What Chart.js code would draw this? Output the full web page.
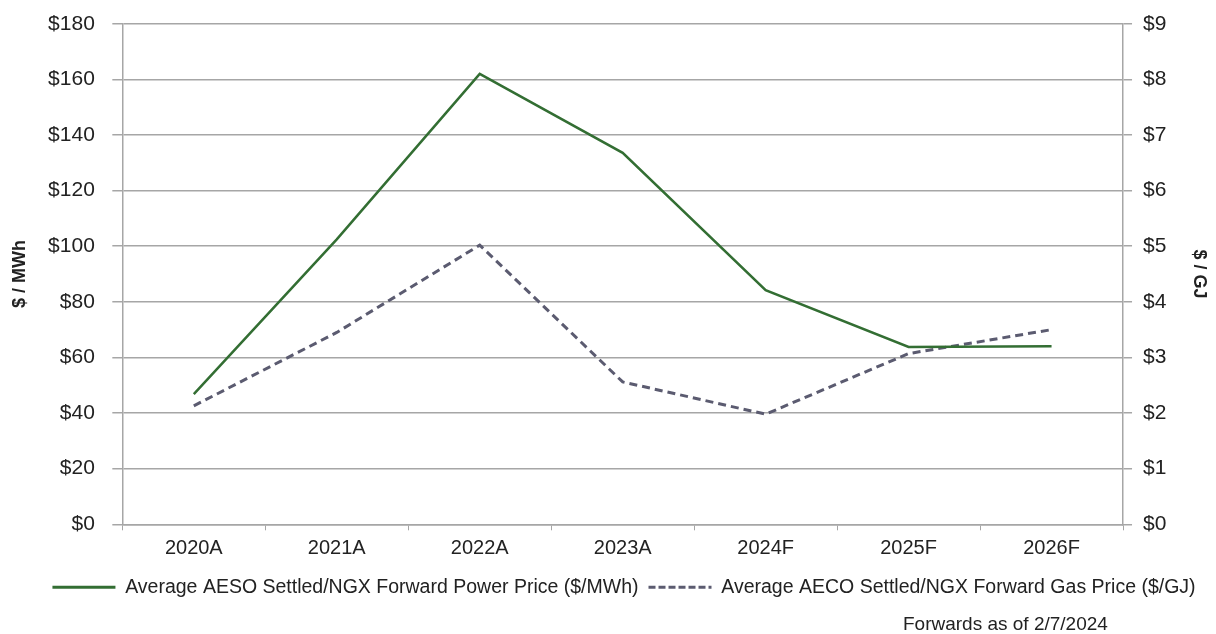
<!DOCTYPE html>
<html>
<head>
  <meta charset="UTF-8">
  <title>AESO Power and AECO Gas Prices</title>
  <script src="https://cdn.jsdelivr.net/npm/chart.js"></script>
  <style>
    body { margin: 0; background: #fff; }
    #wrap { position: relative; width: 1216px; height: 634px; }
    #note { position: absolute; left: 903px; top: 613px; font: 19px "Liberation Sans", Arial, sans-serif; color: #222; }
  </style>
</head>
<body>
<div id="wrap">
  <canvas id="priceChart"></canvas>
  <div id="note">Forwards as of 2/7/2024</div>
</div>

<script>
  // values
  var years = ['2020A', '2021A', '2022A', '2023A', '2024F', '2025F', '2026F'];
  var powerPrice = [46.8, 102.5, 162, 133.6, 84.2, 63.8, 64];   // $/MWh
  var gasPrice = [2.13, 3.45, 5.02, 2.56, 1.98, 3.07, 3.5];     // $/GJ

  var powerLabel = 'Average AESO Settled/NGX Forward Power Price ($/MWh)';
  var gasLabel = 'Average AECO Settled/NGX Forward Gas Price ($/GJ)';

  var gridColor = '#a6a6a6';
  var textColor = '#222';
  var fontName = '"Liberation Sans", Arial, sans-serif';

  var ctx = document.getElementById('priceChart').getContext('2d');

  var priceChart = new Chart(ctx, {
    type: 'line',
    data: {
      labels: years,
      datasets: [{
        label: powerLabel,
        data: powerPrice,
        yAxisID: 'y',
        borderColor: '#336e33',
        backgroundColor: '#336e33',
        borderWidth: 2.5,
        pointRadius: 0,
        tension: 0
      }, {
        label: gasLabel,
        data: gasPrice,
        yAxisID: 'y1',
        borderColor: '#5b5b70',
        backgroundColor: '#5b5b70',
        borderWidth: 3,
        borderDash: [8, 5],
        pointRadius: 0,
        tension: 0
      }]
    },
    options: {
      responsive: true,
      maintainAspectRatio: false,
      animation: false,
      // negative right padding pushes the legend a bit right, like the original
      layout: { padding: { left: 0, right: -32, top: 13, bottom: 27 } },
      plugins: {
        tooltip: { enabled: false },
        legend: {
          position: 'bottom',
          labels: {
            usePointStyle: true,
            pointStyle: 'line',
            pointStyleWidth: 63,
            padding: 10,
            color: textColor,
            font: { family: fontName, size: 19.5 },
            // keep the dash of each line in its legend sample
            generateLabels: function(chart) {
              var items = Chart.defaults.plugins.legend.labels.generateLabels(chart);
              items.forEach(function(item, i) {
                var ds = chart.data.datasets[i];
                item.lineDash = ds.borderDash ? [7, 3] : [];
                item.lineWidth = 3;
                item.strokeStyle = ds.borderColor;
              });
              return items;
            }
          }
        }
      },
      scales: {
        x: {
          offset: true,
          grid: { offset: true, drawOnChartArea: false, tickLength: 6, color: gridColor },
          border: { color: gridColor, width: 1.5 },
          ticks: { color: textColor, padding: 18, font: { family: fontName, size: 20, lineHeight: 0.06 } }
        },
        y: {
          position: 'left',
          min: 0,
          max: 180,
          grid: { color: gridColor, lineWidth: 1.5, tickLength: 10 },
          border: { color: gridColor, width: 1.5 },
          ticks: {
            stepSize: 20,
            padding: 17.5,
            color: textColor,
            font: { family: fontName, size: 21, lineHeight: 0.6 },
            callback: function(v) { return '$' + v; }
          },
          title: {
            display: true,
            text: '$ / MWh',
            color: textColor,
            padding: { top: 9, bottom: 0 },
            font: { family: fontName, size: 18, weight: 'bold' }
          }
        },
        y1: {
          position: 'right',
          min: 0,
          max: 9,
          grid: { drawOnChartArea: false, color: gridColor, lineWidth: 1.5, tickLength: 9 },
          border: { color: gridColor, width: 1.5 },
          ticks: {
            stepSize: 1,
            padding: 11,
            color: textColor,
            font: { family: fontName, size: 21, lineHeight: 0.6 },
            callback: function(v) { return '$' + v; }
          },
          title: {
            display: true,
            text: '$ / GJ',
            color: textColor,
            padding: { top: 38, bottom: 11 },
            font: { family: fontName, size: 18, weight: 'bold' }
          }
        }
      }
    }
  });
</script>
</body>
</html>
